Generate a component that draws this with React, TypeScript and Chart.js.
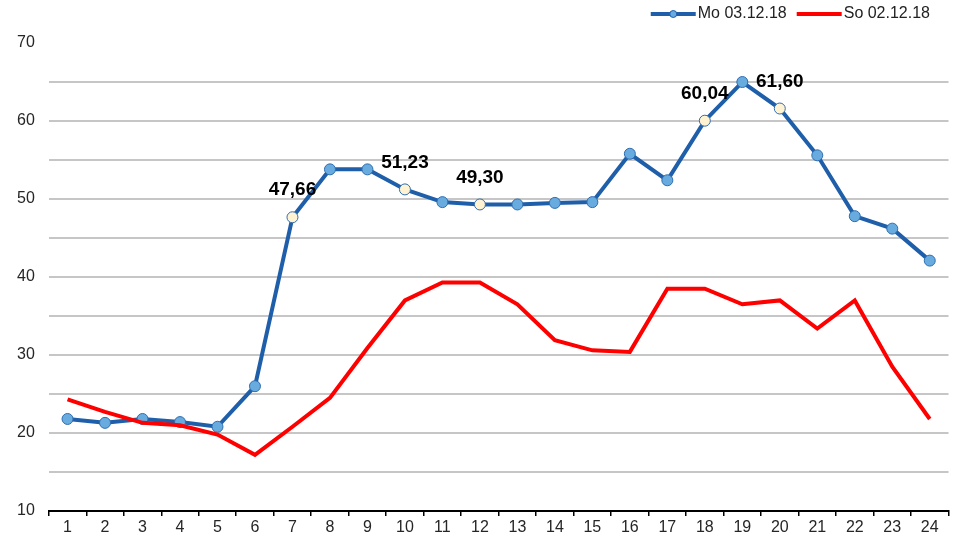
import React, { useEffect, useRef } from 'react';
import { Chart, registerables } from 'chart.js';

Chart.register(...registerables);

// ---- data ----
const hours = ['1','2','3','4','5','6','7','8','9','10','11','12','13','14','15','16','17','18','19','20','21','22','23','24'];
const mo031218 = [21.8, 21.3, 21.8, 21.4, 20.8, 26.0, 47.66, 53.8, 53.8, 51.23, 49.6, 49.30, 49.3, 49.5, 49.6, 55.8, 52.4, 60.04, 65.0, 61.60, 55.6, 47.8, 46.2, 42.1];
const so021218 = [24.3, 22.7, 21.3, 21.0, 19.8, 17.2, 20.8, 24.5, 30.9, 37.0, 39.3, 39.3, 36.5, 31.9, 30.6, 30.4, 38.5, 38.5, 36.5, 37.0, 33.4, 37.0, 28.5, 21.8];
const labelledHours = ['7', '10', '12', '18', '20'];
const seriesNames = ['Mo 03.12.18', 'So 02.12.18'];
const yMin = 10;
const yMax = 70;
const yStep = 5;
const yLabelStep = 10;

const FONT = '"Liberation Sans", Arial, sans-serif';
const BLUE = '#1F5FAA';
const RED = '#FF0000';
const POINT_FILL = '#68ABDF';
const HIGHLIGHT_FILL = '#FFF3D2';

const isLabelled = (i: number) => labelledHours.includes(hours[i]);

const valueLabelPlugin = {
  id: 'valueLabels',
  afterDatasetsDraw(chart: any) {
    const ctx = chart.ctx;
    const meta = chart.getDatasetMeta(0);
    const data = chart.data.datasets[0].data as number[];
    ctx.save();
    ctx.font = `bold 19px ${FONT}`;
    ctx.fillStyle = '#000';
    ctx.textAlign = 'center';
    ctx.textBaseline = 'middle';
    meta.data.forEach((pt: any, i: number) => {
      if (!isLabelled(i)) return;
      const txt = data[i].toFixed(2).replace('.', ',');
      ctx.fillText(txt, pt.x, pt.y - 27);
    });
    ctx.restore();
  },
};

const customLegendPlugin = {
  id: 'customLegend',
  afterDraw(chart: any) {
    const ctx = chart.ctx;
    ctx.save();
    ctx.font = `16px ${FONT}`;
    ctx.textBaseline = 'middle';
    ctx.fillStyle = '#222';
    const y = 14;
    const lineLen = 45;
    const gapAfterLine = 2;
    const gapBetween = 10;
    const w1 = ctx.measureText(seriesNames[0]).width;
    const w2 = ctx.measureText(seriesNames[1]).width;
    const total = lineLen + gapAfterLine + w1 + gapBetween + lineLen + gapAfterLine + w2;
    let x = 930 - total;
    // item 1
    ctx.strokeStyle = BLUE;
    ctx.lineWidth = 4;
    ctx.beginPath();
    ctx.moveTo(x, y);
    ctx.lineTo(x + lineLen, y);
    ctx.stroke();
    ctx.beginPath();
    ctx.arc(x + lineLen / 2, y, 3.5, 0, Math.PI * 2);
    ctx.fillStyle = POINT_FILL;
    ctx.fill();
    ctx.lineWidth = 1;
    ctx.strokeStyle = BLUE;
    ctx.stroke();
    x += lineLen + gapAfterLine;
    ctx.fillStyle = '#222';
    ctx.fillText(seriesNames[0], x, y);
    x += w1 + gapBetween;
    // item 2
    ctx.strokeStyle = RED;
    ctx.lineWidth = 4;
    ctx.beginPath();
    ctx.moveTo(x, y);
    ctx.lineTo(x + lineLen, y);
    ctx.stroke();
    x += lineLen + gapAfterLine;
    ctx.fillText(seriesNames[1], x, y);
    ctx.restore();
  },
};

export default function App() {
  const canvasRef = useRef<HTMLCanvasElement | null>(null);

  useEffect(() => {
    if (!canvasRef.current) return;
    const chart = new Chart(canvasRef.current, {
      type: 'line',
      data: {
        labels: hours,
        datasets: [
          {
            label: seriesNames[0],
            data: mo031218,
            borderColor: BLUE,
            borderWidth: 4,
            pointRadius: 5.5,
            pointBorderWidth: 1,
            pointBorderColor: '#2E6DB0',
            pointBackgroundColor: (c: any) => (isLabelled(c.dataIndex) ? HIGHLIGHT_FILL : POINT_FILL),
            tension: 0,
            order: 1,
          },
          {
            label: seriesNames[1],
            data: so021218,
            borderColor: RED,
            borderWidth: 4,
            pointRadius: 0,
            tension: 0,
            order: 0,
          },
        ],
      },
      options: {
        animation: false,
        responsive: true,
        maintainAspectRatio: false,
        layout: { padding: { left: 3, right: 6, top: 43, bottom: 1 } },
        plugins: {
          legend: { display: false },
          tooltip: { enabled: false },
        },
        scales: {
          x: {
            type: 'category',
            offset: true,
            border: { display: true, color: '#000', width: 2 },
            grid: {
              offset: true,
              drawOnChartArea: false,
              drawTicks: true,
              tickLength: 5,
              lineWidth: 1.5,
              color: (c: any) => (c.index === hours.length ? 'rgba(0,0,0,0)' : '#000'),
            },
            ticks: {
              color: '#262626',
              font: { family: FONT, size: 16, lineHeight: 1 },
              padding: 4,
              maxRotation: 0,
              autoSkip: false,
            },
          },
          y: {
            min: yMin,
            max: yMax,
            border: { display: false },
            grid: {
              drawTicks: false,
              lineWidth: 2,
              color: (c: any) => {
                const v = c.tick ? c.tick.value : null;
                if (v === yMax || v === yMin) return 'rgba(0,0,0,0)';
                return '#c6c6c6';
              },
            },
            ticks: {
              stepSize: yStep,
              padding: 14,
              color: '#262626',
              font: { family: FONT, size: 16 },
              callback: (v: any) => (Number(v) % yLabelStep === 0 ? String(v) : ''),
            },
          },
        },
      },
      plugins: [valueLabelPlugin, customLegendPlugin],
    });
    return () => chart.destroy();
  }, []);

  return (
    <div style={{ position: 'fixed', left: 0, top: 0, width: 955, height: 541, background: '#fff' }}>
      <canvas ref={canvasRef} />
    </div>
  );
}
